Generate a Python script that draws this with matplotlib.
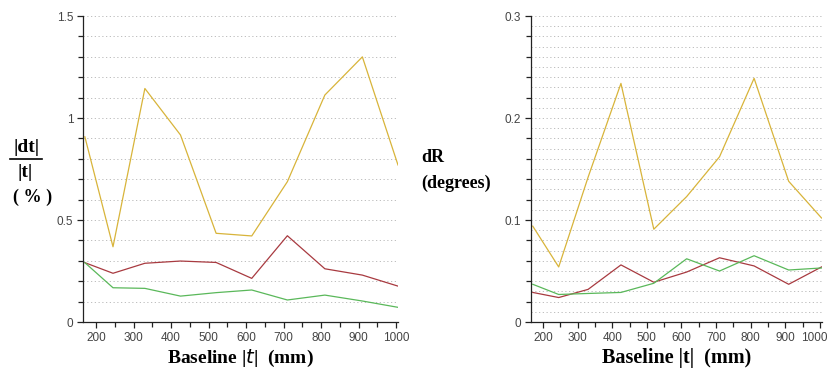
import matplotlib
matplotlib.use('Agg')
import matplotlib.pyplot as plt
from matplotlib.ticker import MultipleLocator, FixedFormatter
from matplotlib.lines import Line2D

baseline = [170, 245, 330, 425, 520, 615, 710, 810, 910, 1005]
xtick_vals = [200, 300, 400, 500, 600, 700, 800, 900, 1000]

# left panel: |dt|/|t| (%)
dt_yellow = [0.908, 0.369, 1.145, 0.917, 0.435, 0.422, 0.688, 1.113, 1.300, 0.770]
dt_red = [0.291, 0.239, 0.288, 0.299, 0.292, 0.214, 0.423, 0.261, 0.230, 0.176]
dt_green = [0.291, 0.168, 0.165, 0.127, 0.144, 0.157, 0.108, 0.132, 0.103, 0.072]

# right panel: dR (degrees)
dr_yellow = [0.094, 0.054, 0.142, 0.234, 0.091, 0.123, 0.162, 0.239, 0.138, 0.102]
dr_red = [0.029, 0.024, 0.032, 0.056, 0.039, 0.049, 0.063, 0.055, 0.037, 0.054]
dr_green = [0.037, 0.027, 0.028, 0.029, 0.038, 0.062, 0.050, 0.065, 0.051, 0.053]

YEL = '#d8b43a'
RED = '#a83a40'
GRN = '#5ab85a'
serif = ['Liberation Serif', 'DejaVu Serif']
plt.rcParams['font.family'] = ['Liberation Sans', 'DejaVu Sans']
TICK_FS = 8.5

fig = plt.figure(figsize=(8.3, 3.74), dpi=100)
ax1 = fig.add_axes([0.1, 0.139, 0.3795, 0.818])
ax2 = fig.add_axes([0.6398, 0.139, 0.350, 0.818])


def style(ax, ymax, grid_step, minor_step, yticks):
    ax.set_xlim(165, 1005)
    ax.set_ylim(0, ymax)
    for s in ['top', 'right']:
        ax.spines[s].set_visible(False)
    for s in ['left', 'bottom']:
        ax.spines[s].set_color('#222222')
        ax.spines[s].set_linewidth(0.9)
    ax.set_xticks(xtick_vals)
    ax.xaxis.set_minor_locator(MultipleLocator(50))
    ax.set_yticks(yticks)
    ax.set_yticklabels([('%g' % v) for v in yticks])
    ax.yaxis.set_minor_locator(MultipleLocator(minor_step))
    ax.tick_params(which='major', length=4, width=0.9, color='#222222',
                   labelsize=TICK_FS, labelcolor='#444444', pad=3)
    ax.tick_params(which='minor', length=3.5, width=0.9, color='#222222')
    y = grid_step
    while y <= ymax + 1e-9:
        ax.axhline(y, color='#b4b4b4', lw=0.6, ls=(0, (1.5, 3)), zorder=0)
        y += grid_step


style(ax1, 1.5, 0.1, 0.1, [0, 0.5, 1, 1.5])
ax1.plot(baseline, dt_yellow, color=YEL, lw=0.9)
ax1.plot(baseline, dt_red, color=RED, lw=0.9)
ax1.plot(baseline, dt_green, color=GRN, lw=0.9)
ax1.set_xlabel('Baseline |$\\mathbf{\\it{t}}$|  (mm)', family=serif,
               fontsize=14, fontweight='bold', labelpad=3)

style(ax2, 0.3, 0.01, 0.02, [0, 0.1, 0.2, 0.3])
ax2.plot(baseline, dr_yellow, color=YEL, lw=0.9)
ax2.plot(baseline, dr_red, color=RED, lw=0.9)
ax2.plot(baseline, dr_green, color=GRN, lw=0.9)
ax2.set_xlabel('Baseline |t|  (mm)', family=serif,
               fontsize=14.5, fontweight='bold', labelpad=3)
# last label of right panel sits a little left so it stays inside the figure
ax2.xaxis.set_major_formatter(FixedFormatter([str(v) for v in xtick_vals[:-1]] + ['']))
ax2.annotate(str(xtick_vals[-1]), xy=(xtick_vals[-1], 0), xycoords='data',
             xytext=(-4, -7), textcoords='offset points', ha='center', va='top',
             fontsize=TICK_FS, color='#444444', annotation_clip=False)

# fraction label for left panel
fig.text(27 / 830, 1 - 148 / 374, '|dt|', family=serif, fontsize=14,
         fontweight='bold', ha='center', va='center')
fig.add_artist(Line2D([10 / 830, 42 / 830], [1 - 159 / 374, 1 - 159 / 374],
                      color='black', lw=1.2))
fig.text(25 / 830, 1 - 172 / 374, '|t|', family=serif, fontsize=14,
         fontweight='bold', ha='center', va='center')
fig.text(33 / 830, 1 - 197 / 374, '( % )', family=serif, fontsize=13,
         fontweight='bold', ha='center', va='center')

# right panel label
fig.text(421 / 830, 1 - 158 / 374, 'dR', family=serif, fontsize=13,
         fontweight='bold', ha='left', va='center')
fig.text(421 / 830, 1 - 183 / 374, '(degrees)', family=serif, fontsize=13,
         fontweight='bold', ha='left', va='center')

fig.savefig('out.png', dpi=100)
